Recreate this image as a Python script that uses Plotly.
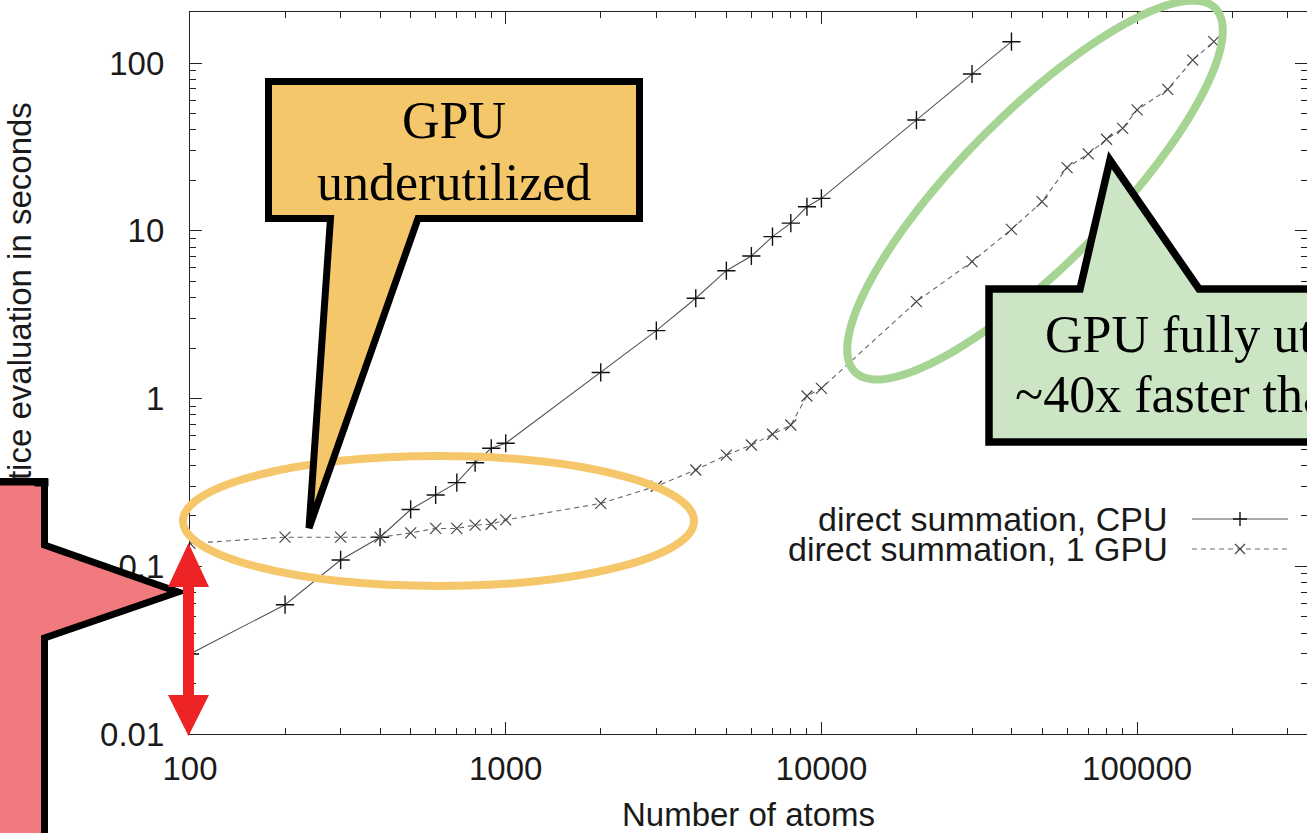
import numpy as np
import plotly.graph_objects as go

# ---------------- data ----------------
cpu_atoms = [100, 200, 300, 400, 500, 600, 700, 800, 900, 1000, 2000, 3000, 4000,
             5000, 6000, 7000, 8000, 9000, 10000, 20000, 30000, 40000]
cpu_time = [0.030, 0.059, 0.109, 0.149, 0.218, 0.266, 0.315, 0.414, 0.505, 0.541,
            1.43, 2.54, 3.96, 5.78, 7.07, 9.22, 11.1, 13.9, 15.6, 45.7, 86.0, 134.0]

gpu_atoms = [100, 200, 300, 400, 500, 600, 700, 800, 900, 1000, 2000, 3000, 4000,
             5000, 6000, 7000, 8000, 9000, 10000, 20000, 30000, 40000, 50000, 60000,
             70000, 80000, 90000, 100000, 125000, 150000, 175000]
gpu_time = [0.137, 0.149, 0.149, 0.149, 0.158, 0.168, 0.168, 0.176, 0.178, 0.189,
            0.237, 0.30, 0.375, 0.46, 0.528, 0.612, 0.695, 1.035, 1.15, 3.78, 6.54,
            10.2, 14.9, 23.8, 28.7, 35.1, 40.8, 52.5, 69.7, 104.0, 134.0]

series_names = ["direct summation, CPU", "direct summation, 1 GPU"]
x_tick_vals = [100, 1000, 10000, 100000]
x_tick_text = ["100", "1000", "10000", "100000"]
y_tick_vals = [0.01, 0.1, 1, 10, 100]
y_tick_text = ["0.01", "0.1", "1", "10", "100"]
x_title = "Number of atoms"
y_title = "Time for lattice evaluation in seconds"
callout_yellow = ["GPU", "underutilized"]
callout_green = ["GPU fully utilized", "~40x faster than CPU"]

# ---------------- layout geometry ----------------
W, H = 1307, 833
L, R, T, B = 190, 1307, 12, 734          # plot area in page pixels
X_RANGE = [2.0, 2.0 + (R - L) / 315.7]    # log10 range of x
Y_RANGE = [-2.0, -2.0 + (B - T) / 167.75]  # log10 range of y

SANS = "Liberation Sans, Arial, Helvetica, sans-serif"
SERIF = "Liberation Serif, Times New Roman, serif"
TXT = "#1a1a1a"


def P(px, py):
    """page pixel -> paper coordinates of the plot area"""
    return (px - L) / (R - L), (B - py) / (B - T)


def path(points, close=True):
    pts = [P(*p) for p in points]
    s = "M " + " L ".join(f"{x:.5f},{y:.5f}" for x, y in pts)
    return s + (" Z" if close else "")


fig = go.Figure()

fig.add_trace(go.Scatter(
    x=cpu_atoms, y=cpu_time, name=series_names[0], mode="lines+markers",
    line=dict(color="#555555", width=1.1),
    marker=dict(symbol="cross-thin", size=13, line=dict(color="#111111", width=1.4)),
    showlegend=False))
fig.add_trace(go.Scatter(
    x=gpu_atoms, y=gpu_time, name=series_names[1], mode="lines+markers",
    line=dict(color="#666666", width=1.1, dash="5px,4px"),
    marker=dict(symbol="x-thin", size=11, line=dict(color="#444444", width=1.2)),
    showlegend=False))

axis_common = dict(
    type="log", showgrid=False, zeroline=False, showline=True,
    linecolor="#222222", linewidth=1.2, mirror="allticks",
    ticks="inside", ticklen=12, tickwidth=1, tickcolor="#222222",
    minor=dict(ticks="inside", ticklen=6, tickwidth=1, tickcolor="#222222",
               dtick="D1", showgrid=False),
    tickfont=dict(family=SANS, size=33, color=TXT),
    automargin=False,
)

fig.update_layout(
    width=W, height=H,
    margin=dict(l=L, r=W - R, t=T, b=H - B, pad=0),
    paper_bgcolor="white", plot_bgcolor="white",
    xaxis=dict(axis_common, range=X_RANGE, tickmode="array",
               tickvals=x_tick_vals, ticktext=x_tick_text,
               ticklabelstandoff=5,
               title=dict(text=x_title, font=dict(family=SANS, size=33, color=TXT),
                          standoff=23)),
    yaxis=dict(axis_common, range=Y_RANGE, tickmode="array",
               tickvals=y_tick_vals, ticktext=y_tick_text,
               ticklabelstandoff=18,
               title=dict(text=y_title, font=dict(family=SANS, size=33, color=TXT),
                          standoff=58)),
)

shapes = []
# yellow ellipse (axis aligned)
ycx, ycy, yrx, yry = 438.5, 521, 255.5, 65
x0, y0 = P(ycx - yrx, ycy + yry)
x1, y1 = P(ycx + yrx, ycy - yry)
shapes.append(dict(type="circle", xref="paper", yref="paper", x0=x0, y0=y0, x1=x1, y1=y1,
                   line=dict(color="#F5C76A", width=8), layer="above"))

# green rotated ellipse
gcx, gcy, ga, gb, gth = 1035, 190, 256, 75, np.radians(45.3)
tt = np.linspace(0, 2 * np.pi, 160)
gpts = [(gcx + ga * np.cos(t) * np.cos(gth) - gb * np.sin(t) * np.sin(gth),
         gcy - (ga * np.cos(t) * np.sin(gth) + gb * np.sin(t) * np.cos(gth))) for t in tt]
shapes.append(dict(type="path", xref="paper", yref="paper", path=path(gpts),
                   line=dict(color="#A6D492", width=8), layer="above"))

# yellow callout
yel = [(268.5, 81.5), (639.5, 81.5), (639.5, 218.5), (418, 218.5), (309, 528),
       (330.5, 218.5), (268.5, 218.5)]
shapes.append(dict(type="path", xref="paper", yref="paper", path=path(yel),
                   fillcolor="#F5C76B", line=dict(color="black", width=7), layer="above"))

# green callout
grn = [(989, 289), (1080, 289), (1110, 160), (1199, 289), (1330, 289), (1330, 442),
       (989, 442)]
shapes.append(dict(type="path", xref="paper", yref="paper", path=path(grn),
                   fillcolor="#CCE5C5", line=dict(color="black", width=7.5), layer="above"))

# red callout (left)
red = [(-20, 481.5), (44.5, 481.5), (44.5, 545), (178, 592), (44.5, 638),
       (44.5, 860), (-20, 860)]
shapes.append(dict(type="path", xref="paper", yref="paper", path=path(red),
                   fillcolor="#F07A7E", line=dict(color="black", width=7), layer="above"))

# red double arrow
arr = [(188.5, 543), (209, 587), (194, 587), (194, 695), (209, 695), (188.5, 736),
       (168, 695), (183, 695), (183, 587), (168, 587)]
shapes.append(dict(type="path", xref="paper", yref="paper", path=path(arr),
                   fillcolor="#EE2326", line=dict(width=0), layer="above"))

# legend samples (gnuplot style: text, then sample)
leg_y = [519, 549]
sx0, sx1, smk = 1192, 1288, 1240
shapes.append(dict(type="path", xref="paper", yref="paper",
                   path=path([(sx0, leg_y[0]), (sx1, leg_y[0])], close=False),
                   line=dict(color="#555555", width=1.1)))
shapes.append(dict(type="path", xref="paper", yref="paper",
                   path=path([(smk - 7, leg_y[0]), (smk + 7, leg_y[0])], close=False) + " " +
                   path([(smk, leg_y[0] - 7), (smk, leg_y[0] + 7)], close=False),
                   line=dict(color="#111111", width=1.4)))
shapes.append(dict(type="path", xref="paper", yref="paper",
                   path=path([(sx0, leg_y[1]), (sx1, leg_y[1])], close=False),
                   line=dict(color="#666666", width=1.1, dash="5px,4px")))
shapes.append(dict(type="path", xref="paper", yref="paper",
                   path=path([(smk - 5, leg_y[1] - 5), (smk + 5, leg_y[1] + 5)], close=False) + " " +
                   path([(smk - 5, leg_y[1] + 5), (smk + 5, leg_y[1] - 5)], close=False),
                   line=dict(color="#444444", width=1.2)))
fig.update_layout(shapes=shapes)

ann = []
for i, name in enumerate(series_names):
    ax, ay = P(1170, leg_y[i])
    ann.append(dict(x=ax, y=ay, xref="paper", yref="paper", text=name, showarrow=False,
                    xanchor="right", yanchor="middle",
                    font=dict(family=SANS, size=34, color=TXT)))

for txt, (cx, cy) in zip(callout_yellow, [(454, 120), (454, 183)]):
    ax, ay = P(cx, cy)
    ann.append(dict(x=ax, y=ay, xref="paper", yref="paper", text=txt, showarrow=False,
                    xanchor="center", yanchor="middle",
                    font=dict(family=SERIF, size=52, color="black")))
for txt, (cx, cy) in zip(callout_green, [(1237, 335), (1240, 395)]):
    ax, ay = P(cx, cy)
    ann.append(dict(x=ax, y=ay, xref="paper", yref="paper", text=txt, showarrow=False,
                    xanchor="center", yanchor="middle",
                    font=dict(family=SERIF, size=52, color="black")))

# the red callout box sits in front of the lower part of the y-axis title
bx, by = P(0, 478)
ann.append(dict(x=bx, y=by, xref="paper", yref="paper", text=" ", showarrow=False,
                xanchor="left", yanchor="top", width=45, height=5, borderpad=1,
                bgcolor="black", font=dict(size=4)))
bx, by = P(0, 485)
ann.append(dict(x=bx, y=by, xref="paper", yref="paper", text=" ", showarrow=False,
                xanchor="left", yanchor="top", width=33, height=360, borderpad=0,
                bgcolor="#F07A7E", font=dict(size=4)))
fig.update_layout(annotations=ann)

fig.write_html("out.html", config={"displayModeBar": False},
               post_script="document.body.style.margin='0px';")
